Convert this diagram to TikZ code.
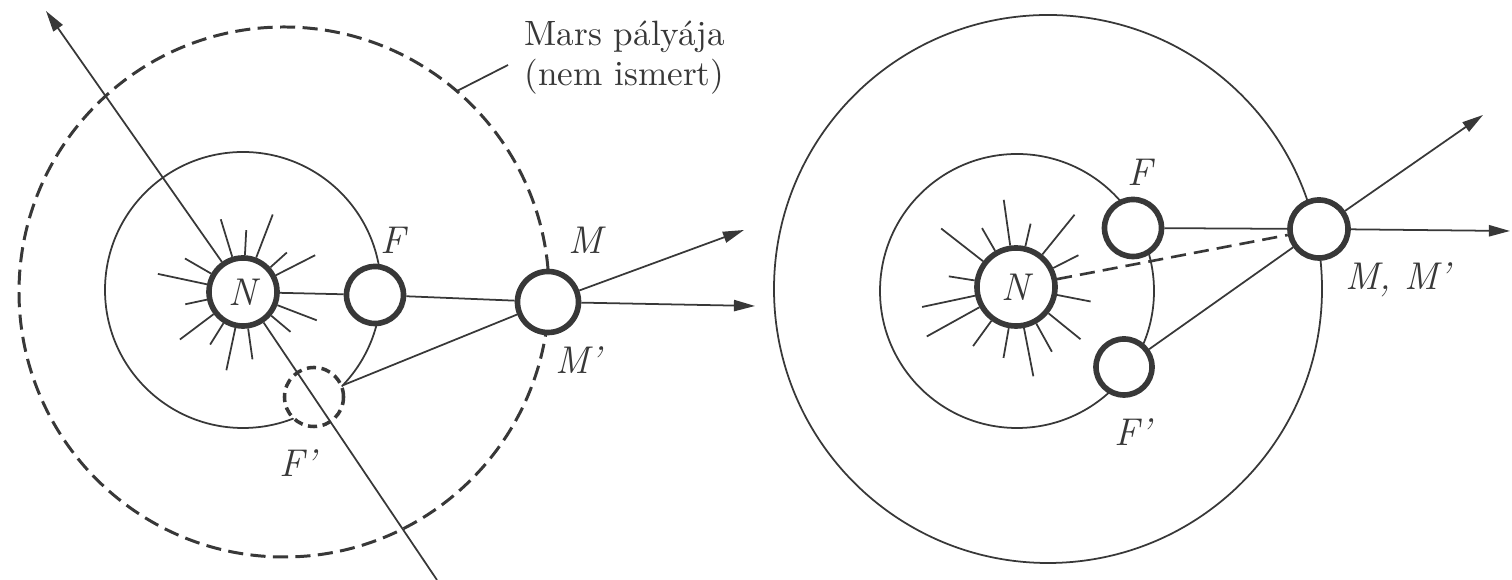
\documentclass[tikz,border=0pt]{standalone}
\usetikzlibrary{calc,arrows.meta}
\definecolor{ink}{gray}{0.22}
\tikzset{
  sun/.style={
    shape = circle,
    draw = ink,
    line width = 1.6pt,
    fill = white,
    inner sep = 0pt,
    text = ink,
    font = \fontsize{11}{13}\selectfont\itshape
  },
  planet/.style={
    shape = circle,
    draw = ink,
    line width = 1.6pt,
    fill = white,
    inner sep = 0pt
  },
  ghost/.style={
    shape = circle,
    draw = ink,
    line width = 1pt,
    dash pattern = on 2.6pt off 1.6pt,
    fill = white,
    inner sep = 0pt
  },
}
\tikzset{
  orbit/.style={
    draw = ink,
    line width = 0.5pt
  },
  marsorbit/.style={
    draw = ink,
    line width = 0.85pt,
    dash pattern = on 4.3pt off 2.1pt
  },
  ray/.style={
    draw = ink,
    line width = 0.5pt
  },
  sight/.style={
    draw = ink,
    line width = 0.5pt
  },
  dir/.style={
    draw = ink,
    line width = 0.5pt,
    -{Triangle[length=6pt,width=3.2pt]}
  },
  lbl/.style={
    text = ink,
    inner sep = 1pt,
    font = \fontsize{11}{13}\selectfont\itshape
  }
}

\begin{document}
\begin{tikzpicture}[x=0.01cm,y=0.01cm]
  \useasboundingbox (0,0) rectangle (1512,-580);
  % left picture: Mars orbit not known
  \draw[orbit] (243,-290) circle (138);
  \draw[marsorbit] (284,-292) circle (265);
  \node[sun,minimum size=0.68cm] (NL) at (243,-292) {N};
  \node[planet,minimum size=0.57cm] (FL) at (375,-295) {};
  \node[ghost,minimum size=0.59cm] (FLp) at (314,-397) {};
  \node[planet,minimum size=0.61cm] (ML) at (548,-302) {};
  \foreach \a/\l in {107/76,69/83,168/87,150/67,27/81,192/59,-21/79,217/79,
                     238/62,258/80,278/68,-40/62,42/59,87/62}{
    \draw[ray] (NL.\a) -- ($(NL)+(\a:\l)$);
  }
  \coordinate (tN) at (46,-11);
  \coordinate (bN) at (437,-580);
  \draw[dir] (NL) -- (tN);
  \draw[sight] (NL) -- (bN);
  \draw[sight] (NL) -- (FL);
  \draw[sight] (FL) -- (ML);
  \draw[sight] (FLp) -- (ML);
  \coordinate (tA) at (744,-230);
  \coordinate (tB) at (755,-306);
  \draw[dir] (ML) -- (tA);
  \draw[dir] (ML) -- (tB);
  \node[lbl] (lFL) at (393,-240) {F};
  \node[lbl] (lML) at (585,-240) {M};
  \node[lbl] (lMLp) at (578,-360) {M'};
  \node[lbl] (lFLp) at (298,-463) {F'};
  \coordinate (lead) at ($(284,-292)+(49.3:265)$);
  \coordinate (leadend) at (508,-65);
  \draw[sight] (lead) -- (leadend);
  \node[anchor=west,align=left,inner sep=0pt,text=ink,
        font=\fontsize{10}{11.4}\selectfont] (mars) at (524,-58)
        {Mars pályája\\(nem ismert)};
  % right picture
  \draw[orbit] (1017,-291) circle (137);
  \draw[orbit] (1048,-289) circle (274);
  \node[sun,minimum size=0.78cm] (NR) at (1016,-287) {N};
  \node[planet,minimum size=0.57cm] (FR) at (1133,-228) {};
  \node[planet,minimum size=0.56cm] (FRp) at (1124,-367) {};
  \node[planet,minimum size=0.58cm] (MR) at (1319,-229) {};
  \foreach \a/\l in {98/88,120/68,77/65,51/93,142/95,27/70,171/68,-11/76,
                     192/96,209/102,-39/83,234/73,260/72,-79/91,-61/74}{
    \draw[ray] (NR.\a) -- ($(NR)+(\a:\l)$);
  }
  \draw[sight] (FR) -- (MR);
  \draw[sight] (FRp) -- (MR);
  \draw[sight,line width=0.75pt,dash pattern=on 4.3pt off 2.3pt] (NR) -- (MR);
  \coordinate (tC) at (1483,-115);
  \coordinate (tD) at (1510,-231);
  \draw[dir] (MR) -- (tC);
  \draw[dir] (MR) -- (tD);
  \node[lbl] (lFR) at (1140,-172) {F};
  \node[lbl] (lFRp) at (1133,-432) {F'};
  \node[lbl] (lMR) at (1398,-280) {M, M'};
\end{tikzpicture}
\end{document}
